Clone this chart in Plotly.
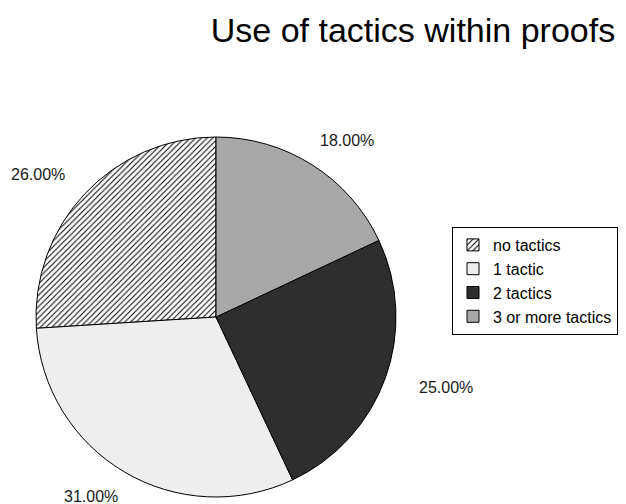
import math
import plotly.graph_objects as go

categories = ["no tactics", "1 tactic", "2 tactics", "3 or more tactics"]
shares = [26, 31, 25, 18]
colors = ["#ffffff", "#eeeeee", "#2e2e2e", "#a8a8a8"]
shapes = ["/", "", "", ""]

W, H = 626, 504
cx, cy, r = 216, 317, 180
label_rx, label_ry = 1.36 * r, 1.16 * r  # where the percentage labels sit
FONT = "Liberation Sans, Arial, sans-serif"

total = sum(shares)

fig = go.Figure(go.Pie(
    labels=categories,
    values=shares,
    sort=False,
    direction="counterclockwise",
    rotation=-shares[0] / total * 360,
    marker=dict(
        colors=colors,
        line=dict(color="#000000", width=1),
        pattern=dict(shape=shapes, fgcolor="#000000", bgcolor=colors, size=4, solidity=0.25),
    ),
    textinfo="none",
    domain=dict(x=[(cx - r) / W, (cx + r) / W], y=[(H - cy - r) / H, (H - cy + r) / H]),
    automargin=False,
    showlegend=True,
    hoverinfo="label+percent",
))

# percentage labels placed outside each slice (slices run counter-clockwise from 12 o'clock)
start = 0.0
annotations = []
for v in shares:
    mid = -(start + v / 2) / total * 2 * math.pi
    start += v
    px = cx + label_rx * math.sin(mid)
    py = cy - label_ry * math.cos(mid)
    annotations.append(dict(
        x=px / W, y=1 - py / H, xref="paper", yref="paper",
        text=f"{v / total * 100:.2f}%", showarrow=False,
        xanchor="center", yanchor="middle",
        font=dict(family=FONT, size=16, color="#1a1a1a"),
    ))

fig.update_layout(
    width=W, height=H,
    margin=dict(l=0, r=0, t=0, b=0),
    paper_bgcolor="white",
    annotations=annotations,
    title=dict(text="Use of tactics within proofs", x=413 / W, xanchor="center", y=1 - 30 / H, yanchor="middle",
               font=dict(family=FONT, size=34, color="#000000")),
    legend=dict(x=452 / W, xanchor="left", y=1 - 227 / H, yanchor="top",
                bordercolor="#000000", borderwidth=1, bgcolor="white",
                font=dict(family=FONT, size=16, color="#000000"),
                itemwidth=30, tracegroupgap=0),
)

fig.write_html("out.html", config={"displayModeBar": False},
               post_script="document.body.style.margin='0';")
